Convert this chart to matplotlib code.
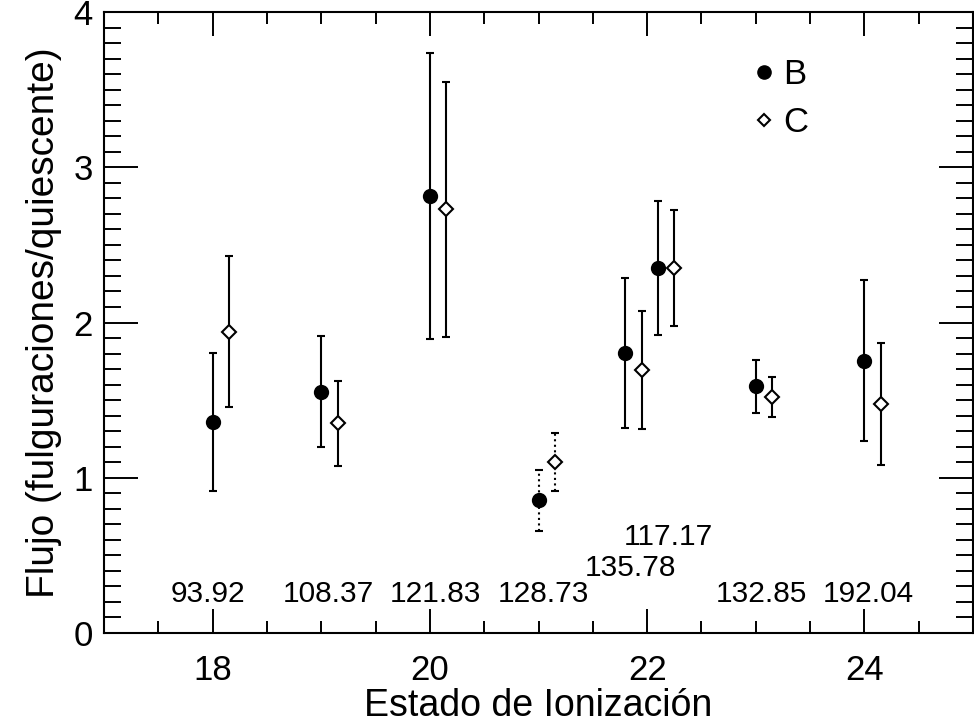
import matplotlib
matplotlib.use("Agg")
import matplotlib.pyplot as plt
from matplotlib.lines import Line2D

plt.rcParams["font.family"] = ["Liberation Sans", "DejaVu Sans"]

# ionization state positions (B and C slightly offset)
x_b = [18.0, 19.0, 20.0, 21.0, 21.8, 22.1, 23.0, 24.0]
flux_b = [1.36, 1.555, 2.815, 0.855, 1.805, 2.35, 1.59, 1.755]
err_b = [0.445, 0.357, 0.92, 0.197, 0.482, 0.433, 0.17, 0.517]

x_c = [18.15, 19.15, 20.15, 21.15, 21.95, 22.25, 23.15, 24.15]
flux_c = [1.94, 1.35, 2.728, 1.103, 1.694, 2.352, 1.52, 1.475]
err_c = [0.487, 0.273, 0.82, 0.186, 0.381, 0.373, 0.13, 0.394]

dotted = [False, False, False, True, False, False, False, False]

# wavelength labels
label_text = ["93.92", "108.37", "121.83", "128.73", "135.78", "117.17", "132.85", "192.04"]
label_x = [17.96, 19.07, 20.05, 21.05, 21.85, 22.2, 23.05, 24.04]
label_y = [0.2, 0.2, 0.2, 0.2, 0.37, 0.57, 0.2, 0.2]

W, H = 974, 726
fig = plt.figure(figsize=(W / 100, H / 100), dpi=100)
ax = fig.add_axes([104 / W, 93 / H, 869 / W, 621 / H])

for i in range(len(x_b)):
    ls = ":" if dotted[i] else "-"
    for x, y, e, mk, ms, mfc in [
        (x_b[i], flux_b[i], err_b[i], "o", 9.5, "black"),
        (x_c[i], flux_c[i], err_c[i], "D", 7.5, "white"),
    ]:
        _, caps, bars = ax.errorbar(
            x, y, yerr=e, fmt=mk, ms=ms, mfc=mfc, mec="black", mew=1.5,
            ecolor="black", elinewidth=1.5, capsize=3, capthick=1.5, zorder=3,
        )
        for b in bars:
            b.set_linestyle(ls)

for t, x, y in zip(label_text, label_x, label_y):
    ax.text(x, y, t, fontsize=21.5, ha="center", va="baseline")

ax.set_xlim(17, 25)
ax.set_ylim(0, 4)
ax.set_xticks([18, 20, 22, 24])
ax.set_xticks([x / 2 for x in range(35, 50)], minor=True)
ax.set_yticks([0, 1, 2, 3, 4])
ax.set_yticks([y / 10 for y in range(0, 41)], minor=True)

ax.tick_params(which="both", direction="in", top=True, right=True, width=1.4, labelsize=25)
ax.tick_params(axis="x", which="major", length=17.3, pad=15)
ax.tick_params(axis="x", which="minor", length=8.6)
ax.tick_params(axis="y", which="major", length=24.5, pad=8)
ax.tick_params(axis="y", which="minor", length=12.2)
for s in ax.spines.values():
    s.set_linewidth(1.5)

ax.set_xlabel("Estado de Ionización", fontsize=27, labelpad=1)
ax.set_ylabel("Flujo (fulguraciones/quiescente)", fontsize=28, labelpad=8)

handles = [
    Line2D([], [], ls="none", marker="o", ms=9.5, mfc="black", mec="black"),
    Line2D([], [], ls="none", marker="D", ms=6.5, mfc="white", mec="black", mew=1.5),
]
ax.legend(handles, ["B", "C"], loc="upper left", bbox_to_anchor=(0.728, 0.948),
          frameon=False, fontsize=25, handlelength=0.8, handletextpad=0.15,
          labelspacing=0.44, borderaxespad=0)

fig.savefig("out.png", dpi=100)
